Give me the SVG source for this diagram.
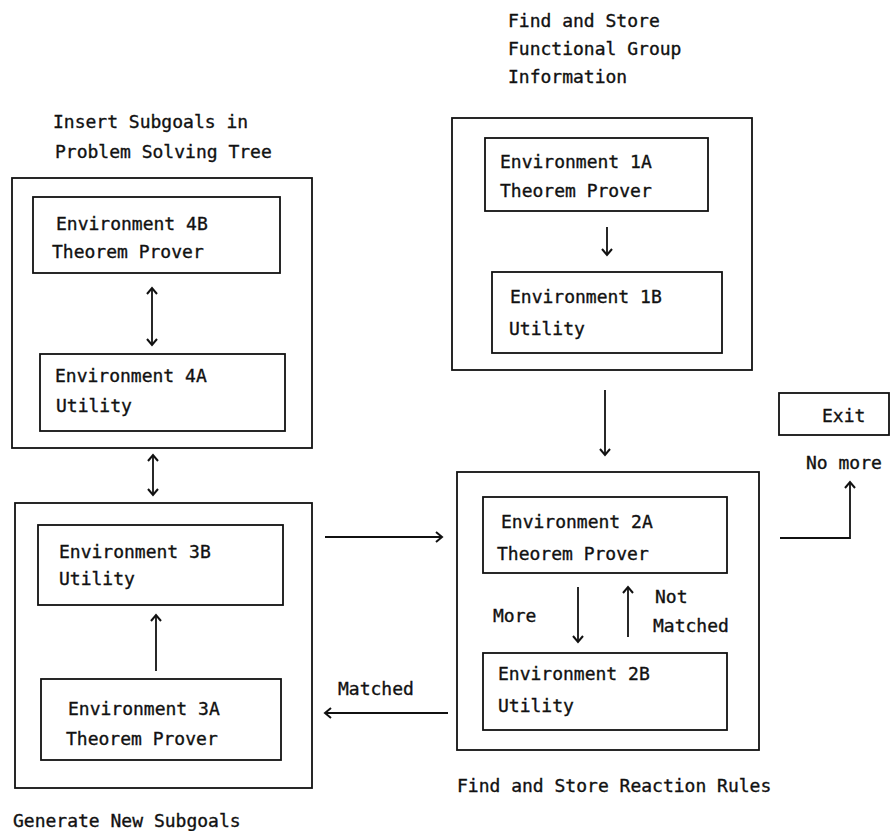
<svg xmlns="http://www.w3.org/2000/svg" width="890" height="831" viewBox="0 0 890 831">
  <style>
    rect { fill: none; stroke: #111; stroke-width: 1.8; }
    text { font-family: "DejaVu Sans Mono", "Liberation Mono", monospace; font-size: 18px; fill: #111; stroke: #111; stroke-width: 0.35; }
    .conn { fill: none; stroke: #111; stroke-width: 1.8; }
  </style>
  <defs>
    <marker id="head" viewBox="-8 -8 16 16" refX="0" refY="0" markerWidth="16" markerHeight="16" markerUnits="userSpaceOnUse" orient="auto-start-reverse" overflow="visible">
      <path d="M-6,-5 L0,0 L-6,5" fill="none" stroke="#111" stroke-width="2"/>
    </marker>
  </defs>

  <!-- Stage 1: functional groups -->
  <g id="stage1">
    <text x="508" y="27">Find and Store</text>
    <text x="508" y="55">Functional Group</text>
    <text x="508" y="83">Information</text>
    <rect x="452" y="118" width="300" height="252"/>
  </g>
  <g id="env1A">
    <rect x="485" y="138" width="223" height="73"/>
    <text x="500" y="168">Environment 1A</text>
    <text x="500" y="197">Theorem Prover</text>
  </g>
  <g id="env1B">
    <rect x="492" y="272" width="230" height="81"/>
    <text x="510" y="303">Environment 1B</text>
    <text x="509" y="335">Utility</text>
  </g>

  <!-- Stage 2: reaction rules -->
  <g id="stage2">
    <rect x="457" y="472" width="302" height="278"/>
    <text x="457" y="792">Find and Store Reaction Rules</text>
  </g>
  <g id="env2A">
    <rect x="483" y="497" width="244" height="76"/>
    <text x="501" y="528">Environment 2A</text>
    <text x="497" y="560">Theorem Prover</text>
  </g>
  <g id="env2B">
    <rect x="483" y="653" width="244" height="77"/>
    <text x="498" y="680">Environment 2B</text>
    <text x="498" y="712">Utility</text>
  </g>

  <!-- Exit -->
  <g id="exit">
    <rect x="779" y="393" width="110" height="42"/>
    <text x="822" y="422">Exit</text>
  </g>

  <!-- Stage 3: new subgoals -->
  <g id="stage3">
    <rect x="15" y="503" width="297" height="285"/>
    <text x="13" y="827">Generate New Subgoals</text>
  </g>
  <g id="env3B">
    <rect x="38" y="525" width="245" height="80"/>
    <text x="59" y="558">Environment 3B</text>
    <text x="59" y="585">Utility</text>
  </g>
  <g id="env3A">
    <rect x="41" y="679" width="240" height="81"/>
    <text x="68" y="715">Environment 3A</text>
    <text x="66" y="745">Theorem Prover</text>
  </g>

  <!-- Stage 4: problem solving tree -->
  <g id="stage4">
    <text x="53" y="128">Insert Subgoals in</text>
    <text x="55" y="158">Problem Solving Tree</text>
    <rect x="12" y="178" width="300" height="270"/>
  </g>
  <g id="env4B">
    <rect x="33" y="197" width="247" height="76"/>
    <text x="56" y="230">Environment 4B</text>
    <text x="52" y="258">Theorem Prover</text>
  </g>
  <g id="env4A">
    <rect x="40" y="354" width="245" height="77"/>
    <text x="55" y="382">Environment 4A</text>
    <text x="56" y="412">Utility</text>
  </g>

  <!-- Connectors -->
  <g id="connectors">
    <line class="conn" x1="607" y1="227" x2="607" y2="255" marker-end="url(#head)"/>
    <line class="conn" x1="605" y1="390" x2="605" y2="455" marker-end="url(#head)"/>
    <line class="conn" x1="578" y1="587" x2="578" y2="642" marker-end="url(#head)"/>
    <line class="conn" x1="628" y1="637" x2="628" y2="587" marker-end="url(#head)"/>
    <text x="493" y="622">More</text>
    <text x="655" y="603">Not</text>
    <text x="653" y="632">Matched</text>
    <polyline class="conn" points="780,538 850,538 850,482" marker-end="url(#head)"/>
    <text x="806" y="469">No more</text>
    <line class="conn" x1="325" y1="537" x2="442" y2="537" marker-end="url(#head)"/>
    <line class="conn" x1="448" y1="713" x2="325" y2="713" marker-end="url(#head)"/>
    <text x="338" y="695">Matched</text>
    <line class="conn" x1="156" y1="671" x2="156" y2="615" marker-end="url(#head)"/>
    <line class="conn" x1="153" y1="455" x2="153" y2="495" marker-start="url(#head)" marker-end="url(#head)"/>
    <line class="conn" x1="152" y1="288" x2="152" y2="345" marker-start="url(#head)" marker-end="url(#head)"/>
  </g>
</svg>
